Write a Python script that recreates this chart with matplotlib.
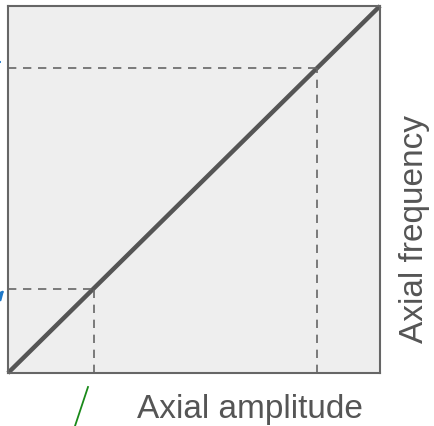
import matplotlib
matplotlib.use("Agg")
import matplotlib.pyplot as plt
from matplotlib.lines import Line2D

W, H = 434, 427

# diagonal response curve and the two marked points on it
curve_x = [0.0, 1.0]
curve_y = [0.0, 1.0]
marked_x = [0.23, 0.83]
marked_y = [0.23, 0.83]

x_label = "Axial amplitude"
y_label = "Axial frequency"

fig = plt.figure(figsize=(W / 100, H / 100), dpi=100)
ax = fig.add_axes([8 / W, (H - 374) / H, 372 / W, 367 / H])
ax.set_facecolor("#eeeeee")
ax.set_xlim(0, 1)
ax.set_ylim(0, 1)
ax.set_xticks([])
ax.set_yticks([])
for s in ax.spines.values():
    s.set_color("#666666")
    s.set_linewidth(1.5)

ax.plot(curve_x, curve_y, color="#555555", lw=3.2, solid_capstyle="butt", clip_on=False)
for mx, my in zip(marked_x, marked_y):
    ax.plot([0, mx], [my, my], color="#666666", lw=1.2, ls=(0, (5, 4)))
    ax.plot([mx, mx], [0, my], color="#666666", lw=1.2, ls=(0, (5, 4)))

# arrows coming in from outside the figure (cut off at the edge)
ax.annotate("", xy=(5, H - 63), xycoords="figure pixels",
            xytext=(-40, H - 63), textcoords="figure pixels",
            arrowprops=dict(arrowstyle="-|>", color="#1f78c8", lw=1.5,
                            mutation_scale=14), annotation_clip=False)
ax.annotate("", xy=(6, H - 289), xycoords="figure pixels",
            xytext=(-30, H - 330), textcoords="figure pixels",
            arrowprops=dict(arrowstyle="-|>", color="#1f78c8", lw=1.5,
                            mutation_scale=14), annotation_clip=False)

fig.add_artist(Line2D([88 / W, 74 / W], [(H - 388) / H, (H - 430) / H],
                      color="#1a8a1a", lw=1.3, transform=fig.transFigure))

fig.text(250 / W, (H - 410) / H, x_label, ha="center", va="center",
         fontsize=24, color="#555555", family="Liberation Sans")
fig.text(414 / W, (H - 229) / H, y_label, ha="center", va="center",
         rotation=90, fontsize=24, color="#555555", family="Liberation Sans")

fig.savefig("out.png", dpi=100)
